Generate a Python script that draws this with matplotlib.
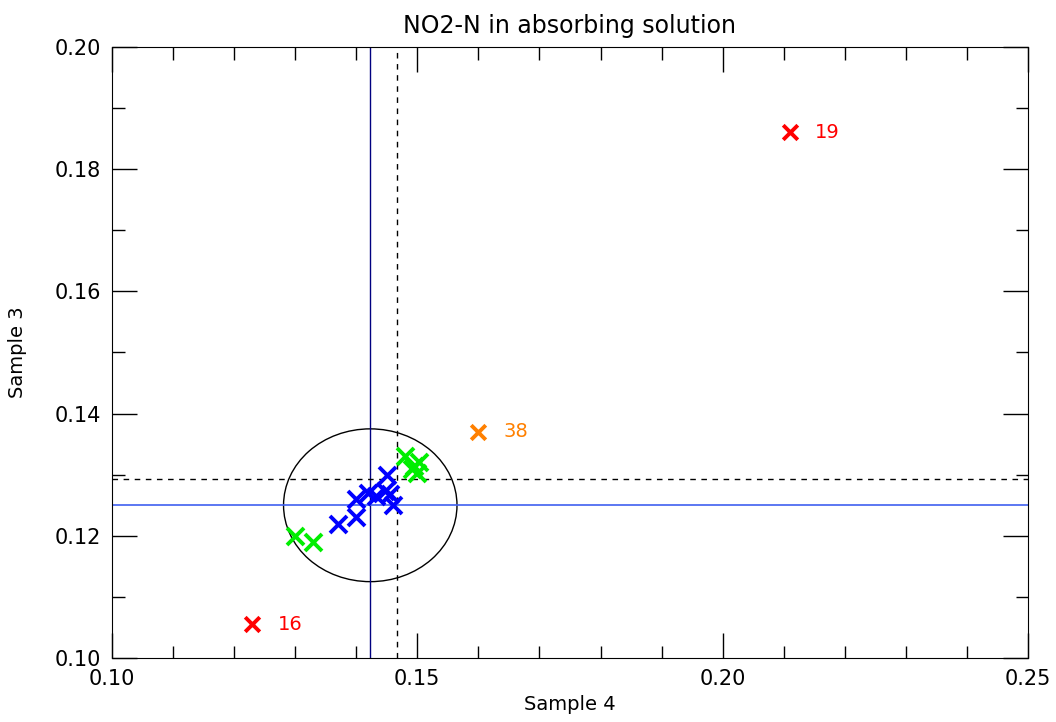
import matplotlib
matplotlib.use('Agg')
import matplotlib.pyplot as plt
from matplotlib.patches import Ellipse
from matplotlib.ticker import MultipleLocator

# data
blue_x = [0.145, 0.140, 0.142, 0.1432, 0.1447, 0.1455, 0.146, 0.140, 0.137]
blue_y = [0.130, 0.126, 0.127, 0.1265, 0.1274, 0.1268, 0.125, 0.123, 0.122]
green_x = [0.148, 0.1502, 0.1491, 0.1499, 0.1495, 0.130, 0.133]
green_y = [0.133, 0.1321, 0.1309, 0.1302, 0.1315, 0.120, 0.119]
outlier_x = [0.211, 0.123, 0.160]
outlier_y = [0.186, 0.1055, 0.137]
outlier_lbl = ['19', '16', '38']
outlier_col = ['#ff0000', '#ff0000', '#ff8000']

med_x, med_y = 0.1423, 0.1250
mean_x, mean_y = 0.1467, 0.1293
ell_w, ell_h = 0.0284, 0.0250

plt.rcParams.update({
    "font.family": "DejaVu Sans",
    "font.size": 14,
    "xtick.direction": "in",
    "ytick.direction": "in",
})

fig = plt.figure(figsize=(10.56, 7.22), dpi=100)
ax = fig.add_axes([0.106, 0.0886, 0.8675, 0.8464])

ax.axvline(med_x, color='#000080', lw=1)
ax.axhline(med_y, color='#4060f0', lw=1.2)
ax.axvline(mean_x, color='black', lw=1, ls=(0, (4, 4)))
ax.axhline(mean_y, color='black', lw=1, ls=(0, (4, 4)))
ax.add_patch(Ellipse((med_x, med_y), ell_w, ell_h, fill=False, color='black', lw=1))

ax.scatter(blue_x, blue_y, marker='x', s=150, color='#0000ff', linewidths=2.8, zorder=3)
ax.scatter(green_x, green_y, marker='x', s=150, color='#00ee00', linewidths=2.8, zorder=3)
for x, y, lbl, c in zip(outlier_x, outlier_y, outlier_lbl, outlier_col):
    ax.scatter([x], [y], marker='x', s=110, color=c, linewidths=2.8, zorder=3)
    ax.annotate(lbl, (x, y), xytext=(18, 0), textcoords='offset points',
                color=c, fontsize=14, va='center')

ax.set_xlim(0.10, 0.25)
ax.set_ylim(0.10, 0.20)
ax.xaxis.set_major_locator(MultipleLocator(0.05))
ax.xaxis.set_minor_locator(MultipleLocator(0.01))
ax.yaxis.set_major_locator(MultipleLocator(0.02))
ax.yaxis.set_minor_locator(MultipleLocator(0.01))
ax.xaxis.set_major_formatter(plt.FormatStrFormatter('%.2f'))
ax.yaxis.set_major_formatter(plt.FormatStrFormatter('%.2f'))
ax.tick_params(which='both', top=True, right=True, width=1, labelsize=15)
ax.tick_params(which='major', length=18, pad=8)
ax.tick_params(which='minor', length=9)

ax.set_xlabel('Sample 4', fontsize=14, labelpad=4)
ax.set_ylabel('Sample 3', fontsize=14, labelpad=20)
ax.set_title('NO2-N in absorbing solution', fontsize=17, pad=10)

fig.savefig('out.png', dpi=100, facecolor='white')
